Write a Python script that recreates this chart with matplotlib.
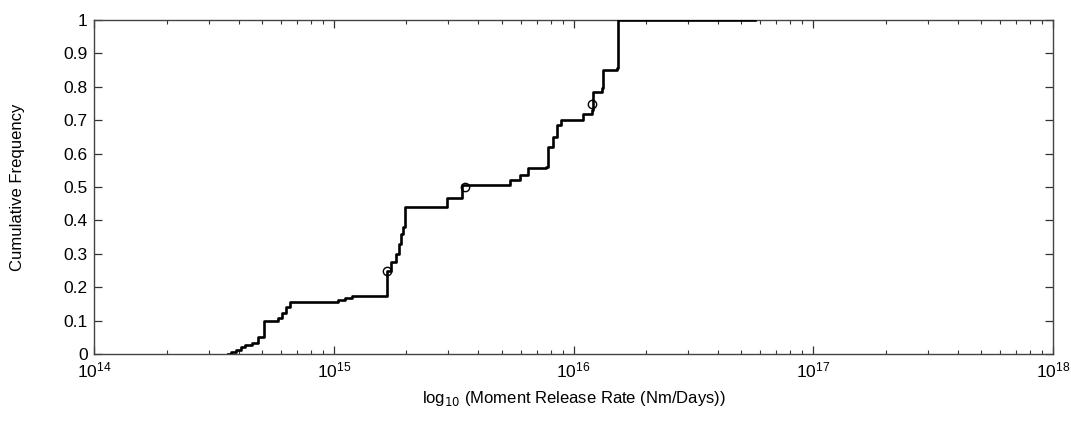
import numpy as np
import matplotlib
matplotlib.use('Agg')
import matplotlib.pyplot as plt
import matplotlib.ticker as mtick

plt.rcParams['font.family'] = ['Liberation Sans', 'DejaVu Sans']

# staircase corners: moment rate (Nm/day) and cumulative frequency after the step
rate = [3.61e14, 3.71e14, 3.90e14, 4.09e14, 4.25e14, 4.54e14, 4.81e14, 5.10e14,
        5.83e14, 6.06e14, 6.30e14, 6.55e14, 1.04e15, 1.11e15, 1.19e15, 1.66e15,
        1.73e15, 1.81e15, 1.87e15, 1.90e15, 1.94e15, 1.98e15, 2.96e15, 3.42e15,
        5.42e15, 5.97e15, 6.44e15, 7.66e15, 7.81e15, 8.20e15, 8.52e15, 8.85e15,
        1.09e16, 1.19e16, 1.20e16, 1.31e16, 1.33e16, 1.52e16, 1.53e16, 5.70e16]
cumfreq = [0.0, 0.005, 0.012, 0.02, 0.027, 0.033, 0.05, 0.10,
           0.107, 0.123, 0.14, 0.157, 0.162, 0.168, 0.175, 0.25,
           0.275, 0.30, 0.33, 0.36, 0.38, 0.44, 0.466, 0.506,
           0.52, 0.536, 0.556, 0.56, 0.62, 0.65, 0.686, 0.70,
           0.72, 0.73, 0.785, 0.796, 0.85, 0.856, 1.0, 1.0]

# quartile markers
q_rate = [1.66e15, 3.52e15, 1.19e16]
q_freq = [0.25, 0.5, 0.75]

fig = plt.figure(figsize=(10.71, 4.22), dpi=100)
ax = fig.add_axes([0.0882, 0.1611, 0.8950, 0.7915])

ax.plot(rate, cumfreq, color='k', lw=1.9, drawstyle='steps-post', zorder=3)
ax.plot(q_rate, q_freq, 'o', mfc='none', mec='k', ms=6, mew=1.0, zorder=4)

ax.set_xscale('log')
ax.set_xlim(1e14, 1e18)
ax.set_ylim(0, 1)
ax.set_yticks(np.arange(0, 1.01, 0.1))
ax.yaxis.set_major_formatter(mtick.FuncFormatter(lambda v, p: ('%.1f' % v).rstrip('0').rstrip('.') if v else '0'))
ax.xaxis.set_minor_locator(mtick.LogLocator(base=10.0, subs=np.arange(2, 10), numticks=100))
ax.xaxis.set_minor_formatter(mtick.NullFormatter())

ax.tick_params(which='both', direction='in', top=True, right=True, labelsize=12.5, colors='#333333', labelcolor='k')
ax.tick_params(which='major', length=6, width=0.9)
ax.tick_params(which='minor', length=3, width=0.8)
ax.tick_params(axis='y', pad=5)
ax.tick_params(axis='x', pad=5)
for s in ax.spines.values():
    s.set_color('#444444')
    s.set_linewidth(1.0)

ax.set_ylabel('Cumulative Frequency', fontsize=12)
ax.yaxis.set_label_coords(-0.0725, 0.5)
ax.set_xlabel('log$_{10}$ (Moment Release Rate (Nm/Days))', fontsize=12, va='top')
ax.xaxis.set_label_coords(0.5, -0.105)

fig.savefig('out.png', dpi=100)
